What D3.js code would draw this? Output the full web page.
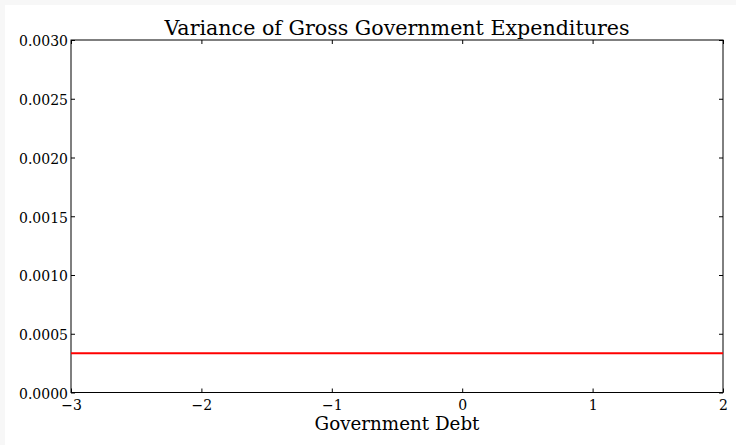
<!DOCTYPE html>
<html>
<head>
<meta charset="utf-8">
<script src="https://cdn.jsdelivr.net/npm/d3@7"></script>
<style>
  html, body { margin: 0; padding: 0; background: #f7f7f7; }
  svg { display: block; }
  text { font-family: "DejaVu Serif", serif; fill: #000; }
</style>
</head>
<body>
<svg id="chart" width="736" height="445"></svg>
<script>
// Variance of gross government expenditures across government debt levels
const debtRange = [-3, 2];
const xTicks = [-3, -2, -1, 0, 1, 2];
const yTicks = [0, 0.0005, 0.001, 0.0015, 0.002, 0.0025, 0.003];
const debtGrid = [-3, 2];
const expenditureVariance = [0.000334, 0.000334];

const W = 736, H = 445;
const m = { left: 71, right: 13, top: 40, bottom: 52.5 };
const svg = d3.select("#chart");

svg.append("rect").attr("x", 5).attr("y", 5).attr("width", W - 5).attr("height", H - 5).attr("fill", "#fff");

const x = d3.scaleLinear().domain(debtRange).range([m.left, W - m.right]);
const y = d3.scaleLinear().domain([0, 0.003]).range([H - m.bottom, m.top]);

const fmtX = d => (d < 0 ? "\u2212" + Math.abs(d) : String(d));
const fmtY = d3.format(".4f");
const tk = 4;

// bottom axis (ticks pointing inward)
const gx = svg.append("g").attr("transform", `translate(0,${y(0)})`)
  .call(d3.axisBottom(x).tickValues(xTicks).tickFormat(fmtX).tickSizeInner(-tk).tickSizeOuter(0).tickPadding(8));
// top axis ticks only
const gxt = svg.append("g").attr("transform", `translate(0,${y(0.003)})`)
  .call(d3.axisTop(x).tickValues(xTicks).tickFormat("").tickSizeInner(-tk).tickSizeOuter(0));
// left axis
const gy = svg.append("g").attr("transform", `translate(${x(-3)},0)`)
  .call(d3.axisLeft(y).tickValues(yTicks).tickFormat(fmtY).tickSizeInner(-tk).tickSizeOuter(0).tickPadding(3));
// right axis ticks only
const gyr = svg.append("g").attr("transform", `translate(${x(2)},0)`)
  .call(d3.axisRight(y).tickValues(yTicks).tickFormat("").tickSizeInner(-tk).tickSizeOuter(0));

[gx, gxt, gy, gyr].forEach(g => {
  g.select(".domain").remove();
  g.selectAll(".tick line").attr("stroke", "#000").attr("stroke-width", 1);
  g.selectAll("text").style("font-family", "DejaVu Serif, serif").style("font-size", "14px").attr("fill", "#000");
});
gy.selectAll(".tick text").attr("dy", "0.42em");

// frame
svg.append("rect")
  .attr("x", x(-3)).attr("y", y(0.003))
  .attr("width", x(2) - x(-3)).attr("height", y(0) - y(0.003))
  .attr("fill", "none").attr("stroke", "#000").attr("stroke-width", 1);

// variance line
const line = d3.line().x((d, i) => x(debtGrid[i])).y(d => y(d));
svg.append("path").datum(expenditureVariance)
  .attr("d", line).attr("fill", "none").attr("stroke", "#ff0000").attr("stroke-width", 2);

svg.append("text").attr("x", (x(-3) + x(2)) / 2).attr("y", 35)
  .attr("text-anchor", "middle").style("font-size", "20.6px")
  .text("Variance of Gross Government Expenditures");

svg.append("text").attr("x", (x(-3) + x(2)) / 2).attr("y", 430)
  .attr("text-anchor", "middle").style("font-size", "18.3px")
  .text("Government Debt");
</script>
</body>
</html>
